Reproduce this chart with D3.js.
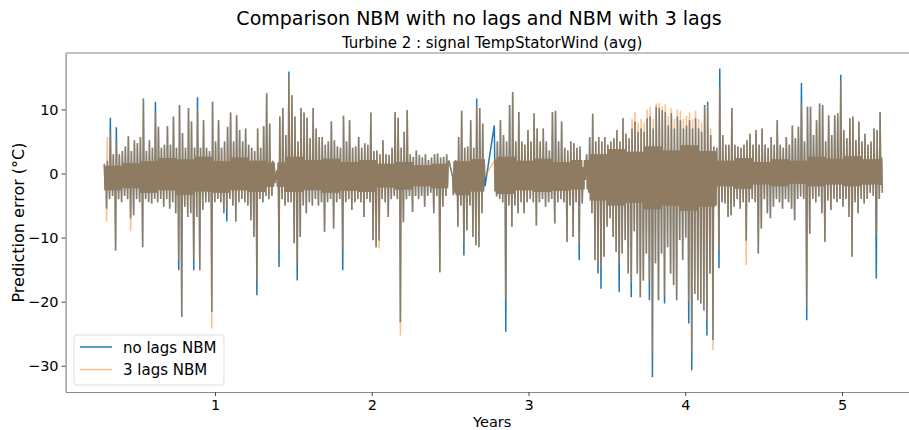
<!DOCTYPE html>
<html>
<head>
<meta charset="utf-8">
<script src="https://cdn.jsdelivr.net/npm/d3@7"></script>
<style>
  body { margin: 0; background: #fff; }
  svg { font-family: "DejaVu Sans", sans-serif; }
</style>
</head>
<body>
<div id="chart"></div>
<script>
var segmentBounds = [[0.294, 1.368], [1.394, 2.478], [2.516, 2.708], [2.782, 3.348], [3.371, 5.243]];
var segmentColumns = [57, 57, 11, 30, 98];

// per column: upper and lower extreme of the error, no lags model
var noLagsHi = [
  1.5, 2, 8.7, 3, 7.2, 3, 3.5, 4.2, 5.8, 3.5, 5.2, 4.7, 5.7, 11.7, 3.5, 5.2, 4, 11.2, 7.3, 4,
  4.5, 7.4, 4.5, 8.9, 4, 10.7, 6.3, 4, 10.2, 8.1, 4, 11.9, 4, 8.3, 4, 3.5, 11.2, 5, 8.3, 4,
  5, 7.3, 9.5, 5, 9.1, 6.8, 5, 7, 4.5, 4, 3.5, 7, 4, 7.4, 12.5, 7.8, 2,
  0.5, 8.9, 10.2, 6, 15.9, 12.2, 8.9, 5, 10.2, 9.5, 8.7, 5.5, 10.2, 7, 5.7, 5.7, 4.5, 5, 8.1, 5.2,
  4.2, 4, 9, 5, 8.3, 4, 4.2, 5.7, 4, 4.7, 4.5, 9.5, 3.5, 3.6, 3, 5.2, 3, 2.9, 4, 9.6,
  8.7, 4, 6.5, 9.9, 3, 2.6, 3.6, 2.9, 2.5, 3, 2.1, 2.5, 3, 3.1, 2.5, 2.6, 3,
  -0.5, 2.1, 5.7, 9.8, 4, 4.2, 8.3, 4, 11.7, 10.2, 7.8,
  7.5, 5, 8.3, 6, 5, 10.7, 12.7, 5, 9.6, 5, 4.5, 6.8, 5, 9.4, 7, 5, 7, 5, 3.6, 9.6,
  9.8, 5, 8.1, 4, 3.6, 5, 4.7, 4, 4.2, 1,
  3, 5.7, 9.3, 5, 5.7, 5, 5.7, 4.5, 5, 5.5, 6.8, 5, 8.6, 6.2, 5.5, 7, 8.1, 6.5, 7, 6.5,
  8.6, 8.9, 7, 10.4, 10.2, 9.9, 9.6, 7.5, 9.4, 7, 8.9, 8.3, 7, 7.5, 8.3, 7, 8.6, 7, 6.5, 10.7,
  11.2, 6, 4.2, 4, 16.4, 6, 4.5, 4.5, 10.2, 4.5, 4.2, 4, 4.5, 5.2, 6.2, 4.5, 6.8, 4.5, 7, 4.5,
  4, 5.7, 4.5, 8.3, 4.5, 4, 5.7, 4.5, 7.5, 5.5, 7.3, 14.1, 5, 10.4, 10.4, 6, 8.3, 10.9, 10.7, 5,
  9.1, 6, 9.1, 9.4, 15.4, 6.8, 5.5, 8.6, 8.9, 5.2, 8.1, 5, 6.2, 4.5, 5, 7, 6.8, 9.6
];
var noLagsLo = [
  -5.5, -4, -3.5, -12, -4, -4.5, -3.5, -4, -7, -6.5, -4, -4.5, -11.5, -4, -4.5, -4.7, -4, -4.5, -4, -5.2,
  -4, -5.5, -4.5, -6.2, -15.1, -22.4, -5.2, -6.8, -6.2, -15.1, -6.8, -15.1, -5.7, -4.5, -4.5, -21.6, -4.5, -4, -4.5, -6.2,
  -7.5, -4, -5, -7.5, -4.5, -4, -4.5, -5, -7.3, -9.9, -19, -4, -4.5, -3.5, -4, -3.5, -1.5,
  -14.6, -4, -5, -4.5, -4.5, -10.9, -16.7, -9.9, -5, -6.2, -4.5, -5, -4, -5, -4.5, -9.1, -4.5, -4, -8.6, -4.5,
  -4, -15.1, -4.5, -4, -5.7, -4.5, -4, -4.5, -6.8, -4, -4.5, -10.4, -11.5, -10.5, -4, -4.5, -6.8, -4, -3.5, -4,
  -23.2, -7.6, -4, -3.5, -6, -3.5, -4, -3.5, -5.2, -3.5, -3, -6.2, -3.5, -15.4, -5.2, -3.5, 2,
  -3, -8.3, -5, -12.8, -8.9, -5, -9.9, -11.2, -11.5, -6.2, -2,
  -3.6, -4, -4.5, -24.7, -5, -8.3, -5, -6.2, -4.5, -6.2, -4.5, -4, -4.5, -8.1, -4.5, -4, -5.2, -4.5, -4, -7.8,
  -4.5, -4, -4.5, -10.7, -5, -9.9, -4.5, -13.5, -4.7, -1,
  -3, -6.2, -13.5, -15.6, -18, -13, -8.3, -7, -9.9, -12.2, -18.5, -12.5, -10.4, -15.6, -19.3, -9, -15.6, -19.3, -16.7, -12.5,
  -19.8, -31.8, -14, -19.8, -12.5, -20.3, -11.5, -15.6, -17.4, -19.8, -10.4, -13.5, -10, -23.4, -30.7, -18.8, -19.8, -20.3, -21.4, -25.3,
  -15.6, -26, -5, -14.8, -4.5, -4.7, -6.8, -6.5, -5.2, -4, -5.5, -4.5, -10.5, -4.5, -4, -4.5, -12.5, -8.6, -4, -6.2,
  -7, -5.2, -4, -4.5, -5.5, -4, -4.5, -5.5, -7.3, -4, -3.6, -4, -22.9, -9.4, -4, -4.5, -3.6, -6.2, -10.7, -4.2,
  -5.7, -4, -4.5, -4, -5.2, -4, -6.8, -13, -4.5, -6.2, -4, -4.7, -4, -3, -3.5, -16.4, -4, -3
];

// same columns, model with 3 lags
var lagsHi = [
  1.5, 5.7, 6.5, 3, 5, 3, 3.5, 4.2, 5.8, 3.5, 5.2, 4.7, 5.7, 11.7, 3.5, 5.2, 4, 9.6, 7.3, 4,
  4.5, 7.4, 4.5, 8.9, 4, 10.7, 6.3, 4, 10.2, 8.1, 4, 10.2, 4, 8.3, 4, 3.5, 11.2, 5, 8.3, 4,
  5, 7.3, 9.5, 5, 9.1, 6.8, 5, 7, 4.5, 4, 3.5, 7, 4, 7.4, 12.5, 7.8, 2,
  0.5, 8.9, 10.2, 6, 15.1, 12.2, 8.9, 5, 10.2, 9.5, 8.7, 5.5, 10.2, 7, 5.7, 5.7, 4.5, 5, 8.1, 5.2,
  4.2, 4, 9, 5, 8.3, 4, 4.2, 5.7, 4, 4.7, 4.5, 9.5, 3.5, 3.6, 3, 5.2, 3, 2.9, 4, 9.6,
  8.7, 4, 6.5, 9.9, 3, 2.6, 3.6, 2.9, 2.5, 3, 2.1, 2.5, 3, 3.1, 2.5, 2.6, 3,
  -0.5, 2.1, 5.7, 9.8, 4, 4.2, 8.3, 4, 10.7, 10.2, 7.8,
  2, 5, 8.3, 6, 5, 10.7, 12.7, 5, 9.6, 5, 4.5, 6.8, 5, 9.4, 7, 5, 7, 5, 3.6, 9.6,
  9.8, 5, 8.1, 4, 3.6, 5, 4.7, 4, 4.2, 1,
  3, 5.7, 9.3, 5, 5.7, 5, 5.7, 4.5, 5, 5.5, 6.8, 5, 8.6, 6.2, 5.5, 8.5, 9.6, 8, 8.5, 8,
  10, 10.4, 8.5, 10.9, 11, 10.5, 10.8, 9, 10.2, 8.5, 10, 9.8, 8.5, 9, 9.5, 8.5, 9.8, 8.5, 8, 10.5,
  10.9, 7, 4.2, 4, 13.5, 6, 4.5, 4.5, 10.2, 4.5, 4.2, 4, 4.5, 5.2, 6.2, 4.5, 6.8, 4.5, 7, 4.5,
  4, 5.7, 4.5, 8.3, 4.5, 4, 5.7, 4.5, 7.5, 5.5, 7.3, 10.9, 5, 10.4, 10.4, 6, 8.3, 10.9, 10.7, 5,
  9.1, 6, 9.1, 9.4, 14.4, 6.8, 5.5, 8.6, 8.9, 5.2, 8.1, 5, 6.2, 4.5, 5, 7, 6.8, 9.6
];
var lagsLo = [
  -7.5, -4, -3.5, -12, -4, -4.5, -3.5, -4, -9, -6.5, -4, -4.5, -11.5, -4, -4.5, -4.7, -4, -4.5, -4, -5.2,
  -4, -5.5, -4.5, -6.2, -13.5, -22.4, -5.2, -6.8, -6.2, -13.5, -6.8, -15.1, -5.7, -4.5, -4.5, -24.2, -4.5, -4, -4.5, -6.2,
  -5.5, -4, -5, -7.5, -4.5, -4, -4.5, -5, -7.3, -9.9, -16.7, -4, -4.5, -3.5, -4, -3.5, -1.5,
  -12, -4, -5, -4.5, -4.5, -10.9, -14, -9.9, -5, -6.2, -4.5, -5, -4, -5, -4.5, -9.1, -4.5, -4, -8.6, -4.5,
  -4, -12, -4.5, -4, -5.7, -4.5, -4, -4.5, -6.8, -4, -4.5, -10.4, -11.5, -11.7, -4, -4.5, -6.8, -4, -3.5, -4,
  -25.3, -7.6, -4, -3.5, -6, -3.5, -4, -3.5, -5.2, -3.5, -3, -6.2, -3.5, -15.4, -5.2, -3.5, 2,
  -3, -8.3, -5, -11, -8.9, -5, -9.9, -11.2, -11.5, -6.2, -0.5,
  -3.6, -4, -4.5, -19.8, -5, -8.3, -5, -6.2, -4.5, -6.2, -4.5, -4, -4.5, -8.1, -4.5, -4, -5.2, -4.5, -4, -7.8,
  -4.5, -4, -4.5, -10.7, -5, -9.9, -4.5, -11, -4.7, -1,
  -3, -6.2, -13.5, -14, -15, -13, -8.3, -7, -9.9, -12.2, -14, -12.5, -10.4, -15.6, -17, -9, -15.6, -19.3, -16.7, -12.5,
  -17, -28, -14, -19.8, -12.5, -19, -11.5, -15.6, -17.4, -19.8, -10.4, -13.5, -10, -20, -28, -18.8, -19.8, -20.3, -21.4, -23,
  -15.6, -27.6, -5, -12, -4.5, -4.7, -6.8, -6.5, -5.2, -4, -5.5, -4.5, -14.3, -4.5, -4, -4.5, -12.5, -8.6, -4, -6.2,
  -7, -5.2, -4, -4.5, -5.5, -4, -4.5, -5.5, -7.3, -4, -3.6, -4, -20.8, -9.4, -4, -4.5, -3.6, -6.2, -10.7, -4.2,
  -5.7, -4, -4.5, -4, -5.2, -4, -6.8, -13, -4.5, -6.2, -4, -4.7, -4, -3, -3.5, -10, -4, -3
];

// solid core where both models overlap, one reading per block of 6 columns
var bandBlock = 6;
var bandTop = [
  1.2, 1.6, 1.9, 2.4, 2.2, 2.6, 1.9, 2.5, 2.0, 1.7, 2.6, 2.1, 2.3, 1.8, 2.1, 1.5, 1.8, 1.3, 1.5, 1.9,
  2.2, 2.6, 2.0, 2.3, 1.8, 2.1, 3.0, 3.8, 3.4, 4.2, 3.6, 4.4, 3.5, 2.0, 2.4, 1.8, 2.2, 2.0, 2.6, 2.3,
  2.7, 2.2, 2.5
];
var bandBottom = [
  -2.6, -2.3, -3.0, -2.6, -3.3, -2.8, -3.0, -2.6, -2.9, -2.1, -2.9, -2.6, -3.0, -2.7, -2.9, -2.2, -2.5, -2.0, -2.3, -3.4,
  -2.8, -3.2, -2.6, -2.9, -2.7, -2.5, -4.2, -5.0, -4.6, -5.6, -5.0, -5.8, -5.2, -2.0, -2.4, -1.7, -2.0, -1.6, -2.0, -1.7,
  -2.0, -1.7, -1.8
];

var xTicks = [1, 2, 3, 4, 5];
var yTicks = [-30, -20, -10, 0, 10];
var seriesNames = ['no lags NBM', '3 lags NBM'];

var width = 909, height = 430;
var plot = { left: 65.6, right: 918.8, top: 53, bottom: 392 };

var x = d3.scaleLinear().domain([0.047, 5.49]).range([plot.left, plot.right]);
var y = d3.scaleLinear().domain([-34.1, 18.8]).range([plot.bottom, plot.top]);

// turn the readings into one continuous line: per column top, core bottom, core top, bottom
function buildSeries(hi, lo) {
  var pts = [], k = 0;
  segmentBounds.forEach(function (b, s) {
    var n = segmentColumns[s];
    var step = (b[1] - b[0]) / (n - 1);
    for (var j = 0; j < n; j++, k++) {
      var t = b[0] + step * j;
      var blk = Math.floor(k / bandBlock);
      pts.push([t, hi[k]]);
      pts.push([t + step * 0.25, bandBottom[blk]]);
      pts.push([t + step * 0.5, bandTop[blk]]);
      pts.push([t + step * 0.75, lo[k]]);
    }
  });
  return pts;
}

var svg = d3.select('#chart').append('svg')
  .attr('width', width)
  .attr('height', height);

svg.append('defs').append('clipPath').attr('id', 'clip')
  .append('rect')
  .attr('x', plot.left).attr('y', plot.top)
  .attr('width', plot.right - plot.left).attr('height', plot.bottom - plot.top);

var line = d3.line()
  .x(function (d) { return x(d[0]); })
  .y(function (d) { return y(d[1]); });

var g = svg.append('g').attr('clip-path', 'url(#clip)');

g.append('path')
  .datum(buildSeries(noLagsHi, noLagsLo))
  .attr('d', line)
  .attr('fill', 'none')
  .attr('stroke', '#1f77b4')
  .attr('stroke-width', 1.5);

g.append('path')
  .datum(buildSeries(lagsHi, lagsLo))
  .attr('d', line)
  .attr('fill', 'none')
  .attr('stroke', '#ff7f0e')
  .attr('stroke-opacity', 0.5)
  .attr('stroke-width', 1.5);

// axes
var xAxis = svg.append('g')
  .attr('transform', 'translate(0,' + plot.bottom + ')')
  .call(d3.axisBottom(x).tickValues(xTicks).tickFormat(d3.format('d')).tickSize(4).tickSizeOuter(0).tickPadding(4));

var yAxis = svg.append('g')
  .attr('transform', 'translate(' + plot.left + ',0)')
  .call(d3.axisLeft(y).tickValues(yTicks).tickSize(4).tickSizeOuter(0).tickPadding(3));

[xAxis, yAxis].forEach(function (a) {
  a.selectAll('text').attr('font-size', 14.5).attr('fill', '#000').attr('font-family', 'DejaVu Sans');
  a.selectAll('.tick line').attr('stroke', '#444');
  a.select('.domain').attr('stroke', '#888').attr('stroke-width', 1.2);
});

svg.append('line')
  .attr('x1', plot.left).attr('x2', plot.right)
  .attr('y1', plot.top).attr('y2', plot.top)
  .attr('stroke', '#888').attr('stroke-width', 1.2);

// titles and labels
svg.append('text')
  .attr('x', 479).attr('y', 25)
  .attr('text-anchor', 'middle')
  .attr('font-size', 19)
  .attr('fill', '#000')
  .text('Comparison NBM with no lags and NBM with 3 lags');

svg.append('text')
  .attr('x', (plot.left + plot.right) / 2).attr('y', 48)
  .attr('text-anchor', 'middle')
  .attr('font-size', 15)
  .attr('fill', '#000')
  .text('Turbine 2 : signal TempStatorWind (avg)');

svg.append('text')
  .attr('x', (plot.left + plot.right) / 2).attr('y', 427)
  .attr('text-anchor', 'middle')
  .attr('font-size', 14.5)
  .attr('fill', '#000')
  .text('Years');

svg.append('text')
  .attr('transform', 'translate(24,' + (plot.top + plot.bottom) / 2 + ') rotate(-90)')
  .attr('text-anchor', 'middle')
  .attr('font-size', 16)
  .attr('fill', '#000')
  .text('Prediction error (°C)');

// legend
var legend = svg.append('g').attr('transform', 'translate(74,335)');
legend.append('rect')
  .attr('width', 150).attr('height', 50)
  .attr('rx', 3)
  .attr('fill', '#fff').attr('fill-opacity', 0.8)
  .attr('stroke', '#ddd');

var legendColors = ['#1f77b4', '#ff7f0e'];
var legendOpacity = [1, 0.5];
seriesNames.forEach(function (name, i) {
  var ly = 12 + i * 22.6;
  legend.append('line')
    .attr('x1', 6).attr('x2', 38)
    .attr('y1', ly).attr('y2', ly)
    .attr('stroke', legendColors[i])
    .attr('stroke-opacity', legendOpacity[i])
    .attr('stroke-width', 1.5);
  legend.append('text')
    .attr('x', 49).attr('y', ly + 5.5)
    .attr('font-size', 15)
    .attr('fill', '#000')
    .text(name);
});
</script>
</body>
</html>
